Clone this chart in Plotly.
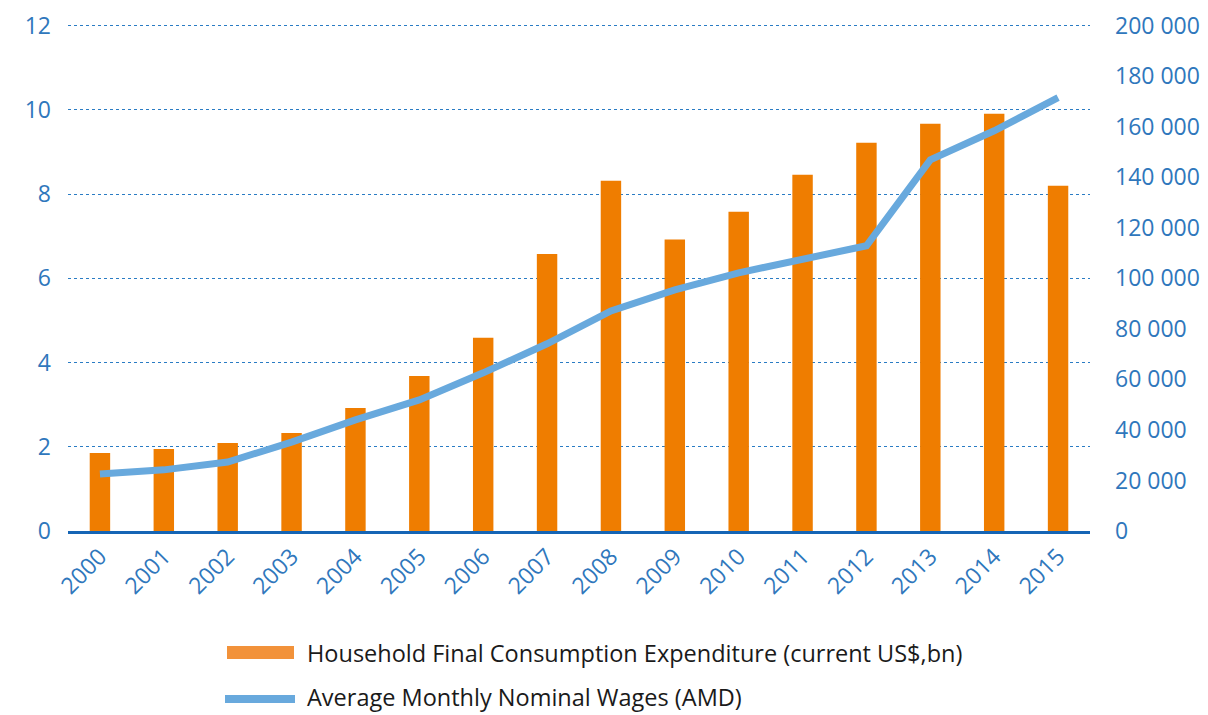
import plotly.graph_objects as go

# Household final consumption expenditure (current US$, bn) and average wages (AMD)
years = [str(y) for y in range(2000, 2016)]
consumption = [1.85, 1.95, 2.09, 2.33, 2.92, 3.68, 4.59, 6.58,
               8.32, 6.92, 7.58, 8.46, 9.22, 9.67, 9.91, 8.20]
wages = [22600, 24200, 27300, 35200, 44000, 51900, 62600, 74100,
         87100, 95400, 102200, 107700, 112900, 146900, 158400, 171500]

left_ticks = [0, 2, 4, 6, 8, 10, 12]
right_ticks = [0, 20000, 40000, 60000, 80000, 100000, 120000, 140000, 160000, 180000, 200000]
right_labels = [f"{v:,}".replace(",", " ") for v in right_ticks]

bar_name = 'Household Final Consumption Expenditure (current US$,bn)'
line_name = 'Average Monthly Nominal Wages (AMD)'

bar_color = '#EF7D00'
line_color = '#68A9DD'
tick_color = '#2F77BC'
grid_color = '#2A7CC4'
font_family = 'Open Sans, Noto Sans, sans-serif'

W, H = 1208, 715
M = dict(l=68, r=118, t=24, b=184)
y_top = 12.04  # a little headroom so the 12 gridline is drawn

fig = go.Figure()

fig.add_trace(go.Bar(
    x=years, y=consumption,
    name=bar_name,
    marker=dict(color=bar_color, line=dict(width=0)),
    width=0.32,
    yaxis='y', showlegend=False
))

fig.add_trace(go.Scatter(
    x=years, y=wages,
    name=line_name,
    mode='lines',
    line=dict(color=line_color, width=7),
    yaxis='y2', showlegend=False
))

# hand-made legend below the chart (wide swatches like the original)
def px_x(p):
    return (p - M['l']) / (W - M['l'] - M['r'])

def px_y(p):
    return (H - M['b'] - p) / (H - M['t'] - M['b'])

fig.add_shape(type='rect', xref='paper', yref='paper',
              x0=px_x(227), x1=px_x(294), y0=px_y(659), y1=px_y(646),
              fillcolor='#F2923A', line=dict(width=0))
fig.add_shape(type='line', xref='paper', yref='paper',
              x0=px_x(225), x1=px_x(295), y0=px_y(699), y1=px_y(699),
              line=dict(color=line_color, width=8))
for name, yy in [(bar_name, 653), (line_name, 697)]:
    fig.add_annotation(text=name, xref='paper', yref='paper',
                       x=px_x(305), y=px_y(yy), xanchor='left', yanchor='middle',
                       showarrow=False,
                       font=dict(size=23.5, color='#1a1a1a', family=font_family))

fig.update_layout(
    width=W, height=H,
    paper_bgcolor='white', plot_bgcolor='white',
    margin=M,
    font=dict(family=font_family, color=tick_color, size=22),
    showlegend=False,
    xaxis=dict(
        tickangle=-45,
        tickfont=dict(size=23, color=tick_color),
        showgrid=False,
        showline=True, linecolor='#1565B5', linewidth=3,
        ticks='', range=[-0.5, 15.5], automargin=False
    ),
    yaxis=dict(
        range=[0, y_top], tickvals=left_ticks,
        showgrid=True, gridcolor=grid_color, gridwidth=1, griddash='dot',
        zeroline=False, showline=False,
        tickfont=dict(size=23, color=tick_color),
        ticklabelstandoff=16, automargin=False
    ),
    yaxis2=dict(
        range=[0, 200000 * y_top / 12], tickvals=right_ticks, ticktext=right_labels,
        overlaying='y', side='right',
        showgrid=False, zeroline=False, showline=False,
        tickfont=dict(size=23, color=tick_color),
        ticklabelstandoff=24, automargin=False
    )
)

# drop the default page margin so the figure sits at the window's corner
fig.write_html("out.html", config={'displayModeBar': False},
               post_script="document.body.style.margin='0';")
